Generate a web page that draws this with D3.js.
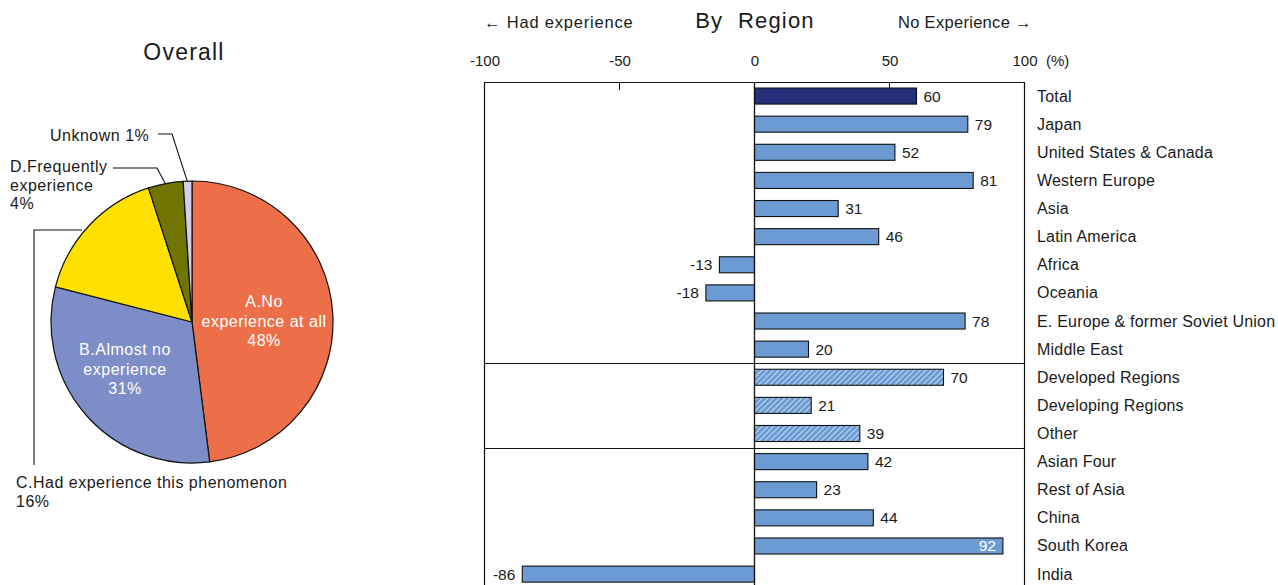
<!DOCTYPE html>
<html>
<head>
<meta charset="utf-8">
<script src="https://cdn.jsdelivr.net/npm/d3@7"></script>
<style>
  html, body { margin: 0; padding: 0; background: #fff; }
  svg text { font-family: "Liberation Sans", Arial, Helvetica, sans-serif; fill: #1a1a1a; white-space: pre; }
</style>
</head>
<body>
<svg id="chart" width="1278" height="585"></svg>
<script>
// ---- Overall (pie) ----
const pieLabels = ["A.No experience at all", "B.Almost no experience", "C.Had experience this phenomenon", "D.Frequently experience", "Unknown"];
const pieValues = [48, 31, 16, 4, 1];
const pieColors = ["#ED6F4A", "#7D8DC7", "#FFE100", "#6F7500", "#D3CFEA"];

// ---- By Region (bars) ----
const regions = ["Total", "Japan", "United States & Canada", "Western Europe", "Asia", "Latin America",
  "Africa", "Oceania", "E. Europe & former Soviet Union", "Middle East", "Developed Regions",
  "Developing Regions", "Other", "Asian Four", "Rest of Asia", "China", "South Korea", "India"];
const regionValues = [60, 79, 52, 81, 31, 46, -13, -18, 78, 20, 70, 21, 39, 42, 23, 44, 92, -86];
const regionKinds = ["total", "r", "r", "r", "r", "r", "r", "r", "r", "r", "h", "h", "h", "r", "r", "r", "r", "r"];
const groupBreaks = ["Developed Regions", "Asian Four"];
const xTicks = [-100, -50, 0, 50, 100];

const svg = d3.select("#chart");

// hatch pattern for grouped regions
const defs = svg.append("defs");
const pat = defs.append("pattern").attr("id", "hatch").attr("patternUnits", "userSpaceOnUse")
  .attr("width", 4).attr("height", 4).attr("patternTransform", "rotate(45)");
pat.append("rect").attr("width", 4).attr("height", 4).attr("fill", "#6B9BD2");
pat.append("line").attr("x1", 0).attr("y1", 0).attr("x2", 0).attr("y2", 4)
  .attr("stroke", "#ffffff").attr("stroke-width", 1.3);

// ---------- Pie ----------
const cx = 192, cy = 322, R = 141;
svg.append("text").attr("x", 184).attr("y", 60).attr("text-anchor", "middle")
  .attr("font-size", 23).attr("letter-spacing", 1.2).text("Overall");

const pie = d3.pie().sort(null).value(d => d)(pieValues);
const arc = d3.arc().innerRadius(0).outerRadius(R);
const pg = svg.append("g").attr("transform", `translate(${cx},${cy})`);
pg.selectAll("path").data(pie).join("path")
  .attr("d", arc)
  .attr("fill", (d, i) => pieColors[i])
  .attr("stroke", "#111").attr("stroke-width", 1.2);

// inside labels
function inner(lines, x, y) {
  const t = svg.append("text").attr("text-anchor", "middle").attr("font-size", 16).attr("letter-spacing", 0.5);
  lines.forEach((s, i) => t.append("tspan").attr("x", x).attr("y", y + i * 19.5).text(s).style("fill", "#fff"));
}
inner(["A.No", "experience at all", pieValues[0] + "%"], 264, 307);
inner(["B.Almost no", "experience", pieValues[1] + "%"], 125, 355);

// outside labels with leader lines
function outer(lines, x, y) {
  const t = svg.append("text").attr("font-size", 16).attr("letter-spacing", 0.5);
  lines.forEach((s, i) => t.append("tspan").attr("x", x).attr("y", y + i * 18.5).text(s));
}
const leader = d3.line();
const lead = pts => svg.append("path").attr("d", leader(pts)).attr("fill", "none")
  .attr("stroke", "#111").attr("stroke-width", 1.1);

// point on the pie rim at the middle of a slice
const rim = (i, r) => {
  const a = (pie[i].startAngle + pie[i].endAngle) / 2;
  return [cx + r * Math.sin(a), cy - r * Math.cos(a)];
};

outer(["Unknown " + pieValues[4] + "%"], 50, 141);
lead([[158, 134], [172, 134], rim(4, R - 1)]);

outer(["D.Frequently", "experience", pieValues[3] + "%"], 10, 172);
lead([[113, 168], [157, 168], rim(3, R - 1)]);

outer(["C.Had experience this phenomenon", pieValues[2] + "%"], 16, 488);
lead([[82, 230], [34, 230], [34, 465]]);

// ---------- Bars ----------
const x0 = 484, x1 = 1025, yTop = 82;
const x = d3.scaleLinear().domain([-100, 100]).range([x0 + 0.5, x1 - 0.5]);
const y = d3.scaleBand().domain(regions).range([yTop, yTop + regions.length * 28.12]).paddingInner(0.43).paddingOuter(0.215);

svg.append("text").attr("x", 755).attr("y", 28).attr("text-anchor", "middle")
  .attr("font-size", 22).attr("letter-spacing", 1.2).text("By  Region");
svg.append("text").attr("x", 484).attr("y", 28).attr("font-size", 16.5).attr("letter-spacing", 0.8).text("← Had experience");
svg.append("text").attr("x", 898).attr("y", 28).attr("font-size", 16.5).attr("letter-spacing", 0.3).text("No Experience →");

// top axis
const axis = d3.axisTop(x).tickValues(xTicks).tickSize(0).tickPadding(0).tickFormat(d => String(d));
const ag = svg.append("g").attr("transform", `translate(0,${yTop - 16})`).call(axis);
ag.select(".domain").remove();
ag.selectAll("text").attr("font-size", 15).style("fill", "#1a1a1a")
  .attr("font-family", '"Liberation Sans", Arial, sans-serif');
svg.append("text").attr("x", 1046).attr("y", 66).attr("font-size", 15).text("(%)");

// tick marks at ±50
svg.selectAll("line.tk").data(xTicks.filter(v => Math.abs(v) === 50)).join("line")
  .attr("x1", d => x(d)).attr("x2", d => x(d)).attr("y1", yTop).attr("y2", yTop + 8)
  .attr("stroke", "#111").attr("stroke-width", 1);

// frame: left, top, right
svg.append("path").attr("d", `M${x0 + 0.5},585 V${yTop + 0.5} H${x1 - 0.5} V585`)
  .attr("fill", "none").attr("stroke", "#111").attr("stroke-width", 1.2);

// group separators
groupBreaks.forEach(k => {
  const yy = Math.round(y(k) - y.step() * y.paddingInner() / 2) + 0.5;
  svg.append("line").attr("x1", x0).attr("x2", x1).attr("y1", yy).attr("y2", yy)
    .attr("stroke", "#111").attr("stroke-width", 1);
});

const rows = regions.map((r, i) => ({ name: r, v: regionValues[i], kind: regionKinds[i] }));

svg.append("g").selectAll("rect").data(rows).join("rect")
  .attr("x", d => x(Math.min(0, d.v)))
  .attr("y", d => y(d.name))
  .attr("width", d => Math.abs(x(d.v) - x(0)))
  .attr("height", y.bandwidth())
  .attr("fill", d => d.kind === "total" ? "#24317A" : d.kind === "h" ? "url(#hatch)" : "#6B9BD2")
  .attr("stroke", "#111").attr("stroke-width", 1.1);

// zero line
svg.append("line").attr("x1", x(0)).attr("x2", x(0)).attr("y1", yTop).attr("y2", 585)
  .attr("stroke", "#111").attr("stroke-width", 1.3);

// value labels
svg.append("g").selectAll("text").data(rows).join("text")
  .attr("font-size", 15.5)
  .attr("y", d => y(d.name) + y.bandwidth() / 2 + 5.5)
  .attr("x", d => d.v > 90 ? x(d.v) - 7 : d.v >= 0 ? x(d.v) + 7 : x(d.v) - 7)
  .attr("text-anchor", d => d.v > 90 || d.v < 0 ? "end" : "start")
  .style("fill", d => d.v > 90 ? "#fff" : "#1a1a1a")
  .text(d => d.v);

// category labels
svg.append("g").selectAll("text").data(rows).join("text")
  .attr("font-size", 16).attr("letter-spacing", 0.2).attr("x", 1037)
  .attr("y", d => y(d.name) + y.bandwidth() / 2 + 5.5)
  .text(d => d.name);
</script>
</body>
</html>
